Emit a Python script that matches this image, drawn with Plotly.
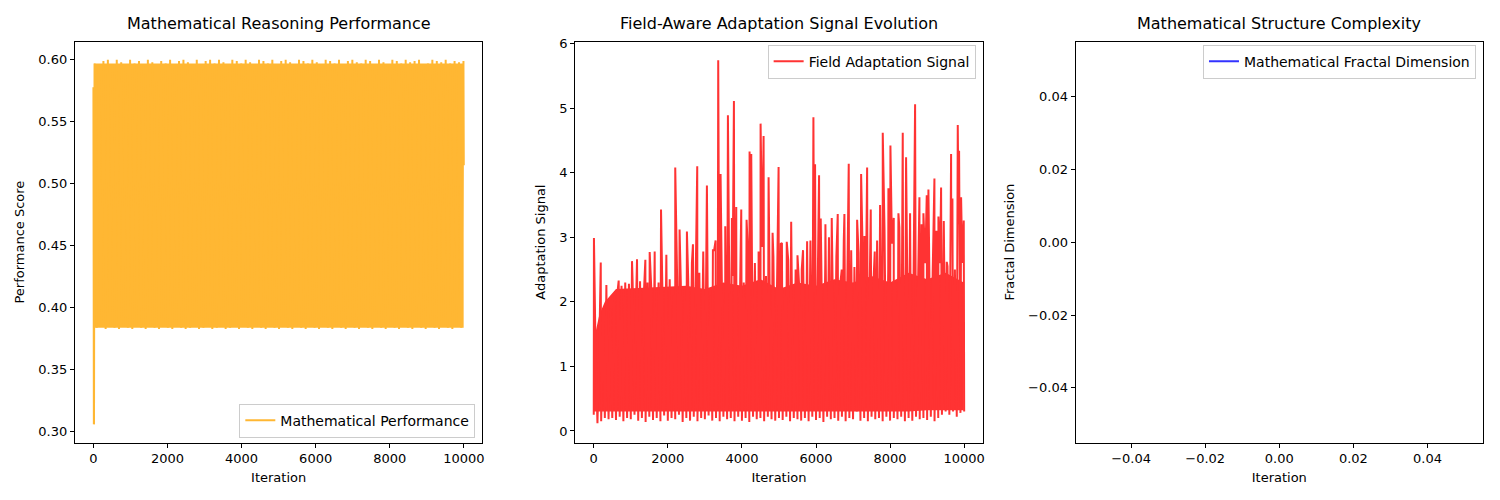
import plotly.graph_objects as go

# --- data ---
# Mathematical performance: start-up dip, then a dense oscillation between ~0.383 and ~0.60
perf_start_iter = [0, 4, 8, 12, 16]
perf_start_vals = [0.578, 0.395, 0.339, 0.306, 0.307]
perf_step = 60  # sampling of the dense band below, from iteration 30
perf_vals = [
    0.597, 0.384, 0.595, 0.386, 0.599, 0.383, 0.600, 0.385, 0.596, 0.384,
    0.600, 0.383, 0.598, 0.385, 0.594, 0.384, 0.600, 0.383, 0.597, 0.386,
    0.599, 0.384, 0.596, 0.383, 0.600, 0.385, 0.598, 0.384, 0.583, 0.383,
    0.599, 0.385, 0.597, 0.384, 0.600, 0.383, 0.595, 0.386, 0.599, 0.384,
    0.600, 0.383, 0.598, 0.384, 0.596, 0.385, 0.600, 0.383, 0.594, 0.384,
    0.599, 0.386, 0.600, 0.383, 0.597, 0.384, 0.600, 0.385, 0.598, 0.383,
    0.595, 0.384, 0.600, 0.386, 0.599, 0.383, 0.597, 0.385, 0.600, 0.384,
    0.598, 0.383, 0.596, 0.385, 0.600, 0.384, 0.599, 0.383, 0.597, 0.386,
    0.600, 0.384, 0.595, 0.383, 0.599, 0.385, 0.600, 0.384, 0.598, 0.383,
    0.596, 0.386, 0.600, 0.384, 0.599, 0.383, 0.597, 0.385, 0.600, 0.384,
    0.598, 0.383, 0.594, 0.385, 0.600, 0.384, 0.599, 0.383, 0.597, 0.386,
    0.600, 0.384, 0.596, 0.383, 0.599, 0.385, 0.600, 0.384, 0.598, 0.383,
    0.597, 0.386, 0.600, 0.384, 0.599, 0.383, 0.595, 0.385, 0.600, 0.384,
    0.598, 0.383, 0.596, 0.385, 0.600, 0.384, 0.599, 0.383, 0.597, 0.386,
    0.600, 0.384, 0.598, 0.383, 0.599, 0.385, 0.600, 0.384, 0.596, 0.383,
    0.597, 0.386, 0.600, 0.384, 0.599, 0.383, 0.598, 0.385, 0.600, 0.384,
    0.597, 0.383, 0.599, 0.385, 0.598, 0.384, 0.599,
]
perf_end_iter = [9999]
perf_end_vals = [0.515]
# solid body of the performance band (where the oscillation is too dense to separate)
perf_band_iter = [20, 1000, 2000, 3000, 4000, 5000, 6000, 7000, 8000, 9000, 9995]
perf_band_low = [0.384, 0.384, 0.384, 0.384, 0.384, 0.384, 0.384, 0.384, 0.384, 0.384, 0.384]
perf_band_high = [0.597, 0.597, 0.597, 0.597, 0.597, 0.597, 0.597, 0.597, 0.597, 0.597, 0.597]

# Field adaptation signal: dense oscillation (every 50 iterations) plus spikes
signal_step = 50
signal_base = [
    0.25, 1.20, 0.12, 1.30, 0.15, 1.50, 0.20, 1.70, 0.18, 1.90,
    0.20, 2.10, 0.17, 2.20, 0.22, 2.25, 0.15, 2.30, 0.20, 2.28,
    0.18, 2.30, 0.25, 2.20, 0.16, 2.32, 0.20, 2.10, 0.14, 2.30,
    0.22, 2.25, 0.17, 2.00, 0.20, 2.30, 0.15, 2.28, 0.24, 2.20,
    0.16, 2.35, 0.20, 2.10, 0.18, 2.40, 0.25, 2.30, 0.14, 2.20,
    0.20, 2.35, 0.16, 2.60, 0.22, 2.20, 0.15, 2.45, 0.20, 2.30,
    0.18, 2.60, 0.24, 2.10, 0.16, 2.80, 0.20, 2.30, 0.15, 2.70,
    0.22, 2.20, 0.18, 2.90, 0.20, 2.40, 0.15, 2.10, 0.22, 2.75,
    0.16, 2.30, 0.20, 2.95, 0.14, 2.20, 0.22, 2.60, 0.18, 2.10,
    0.20, 2.85, 0.15, 2.40, 0.22, 2.15, 0.18, 2.70, 0.16, 2.30,
    0.20, 2.90, 0.17, 2.20, 0.22, 2.65, 0.15, 2.10, 0.20, 2.50,
    0.18, 2.20, 0.16, 2.80, 0.20, 2.30, 0.15, 2.95, 0.22, 2.15,
    0.17, 2.75, 0.20, 2.30, 0.14, 2.60, 0.22, 3.00, 0.18, 2.20,
    0.20, 2.70, 0.16, 2.25, 0.22, 2.95, 0.15, 2.40, 0.20, 2.80,
    0.18, 2.20, 0.30, 2.75, 0.16, 3.05, 0.20, 2.35, 0.15, 2.85,
    0.22, 2.30, 0.18, 2.95, 0.20, 2.40, 0.15, 3.10, 0.22, 2.50,
    0.16, 2.90, 0.20, 2.30, 0.18, 3.15, 0.22, 2.55, 0.15, 2.95,
    0.20, 2.40, 0.16, 3.05, 0.22, 2.50, 0.18, 3.20, 0.20, 2.60,
    0.17, 3.00, 0.22, 2.45, 0.15, 3.10, 0.20, 2.60, 0.25, 3.25,
    0.30, 2.55, 0.25, 3.05, 0.30, 2.50, 0.22, 3.20, 0.28, 2.60,
    0.30,
]
spike_iter = [
    5, 189, 341, 673, 1033, 1168, 1393, 1510, 1645, 1816, 1960, 2200, 2317,
    2515, 2678, 2794, 2956, 3055, 3217, 3290, 3360, 3424, 3550, 3622, 3730,
    3784, 3847, 3982, 4126, 4207, 4252, 4450, 4504, 4585, 4720, 4828, 4990,
    5080, 5210, 5330, 5500, 5615, 5760, 5930, 5975, 6083, 6128, 6254, 6425,
    6587, 6695, 6767, 6884, 7037, 7110, 7218, 7307, 7380, 7478, 7586, 7730,
    7802, 7955, 8009, 8099, 8225, 8342, 8432, 8540, 8675, 8792, 8900, 8990,
    9035, 9197, 9305, 9377, 9530, 9647, 9683, 9827, 9863, 9917, 9989,
]
spike_vals = [
    2.99, 2.61, 2.26, 2.33, 2.63, 2.66, 2.65, 2.77, 2.78, 3.43, 2.73, 4.08, 3.12,
    3.09, 2.89, 4.10, 2.78, 3.80, 2.80, 2.95, 5.74, 3.98, 3.17, 4.89, 3.30,
    5.11, 3.47, 3.43, 3.27, 4.33, 4.29, 2.78, 4.76, 4.57, 3.93, 3.07, 4.09,
    2.91, 2.93, 3.24, 2.72, 2.50, 2.94, 4.86, 4.13, 3.96, 3.29, 3.20, 3.30,
    3.36, 2.50, 3.36, 4.14, 2.54, 3.27, 3.98, 3.02, 4.08, 3.43, 2.78, 3.50,
    4.62, 3.76, 4.42, 3.30, 3.37, 4.62, 4.24, 3.37, 5.06, 3.62, 3.37, 3.65,
    3.74, 3.91, 3.32, 3.77, 2.62, 4.29, 3.60, 4.74, 4.34, 3.62, 3.26,
]
# solid body of the signal band
signal_band_iter = [0, 150, 300, 600, 1500, 2500, 3000, 3500, 4000, 4500, 5000, 5500,
                    6000, 6500, 7000, 7500, 8000, 8500, 9000, 9500, 9990]
signal_band_low = [0.30, 0.30, 0.30, 0.30, 0.30, 0.30, 0.30, 0.30, 0.30, 0.30, 0.30, 0.30,
                   0.30, 0.30, 0.30, 0.30, 0.30, 0.30, 0.32, 0.32, 0.32]
signal_band_high = [1.40, 1.80, 2.00, 2.20, 2.22, 2.25, 2.20, 2.30, 2.25, 2.35, 2.20, 2.30,
                    2.25, 2.35, 2.30, 2.40, 2.30, 2.45, 2.35, 2.45, 2.30]

# Mathematical fractal dimension: no valid values recorded
fractal_iter = [0]
fractal_vals = [None]

# --- assemble series ---
perf_x = perf_start_iter + [30 + perf_step * i for i in range(len(perf_vals))] + perf_end_iter
perf_y = perf_start_vals + perf_vals + perf_end_vals

sig_pts = [(signal_step * i, v) for i, v in enumerate(signal_base)]
sig_pts += list(zip(spike_iter, spike_vals))
sig_pts.sort()
sig_x = [p[0] for p in sig_pts]
sig_y = [p[1] for p in sig_pts]

ORANGE = '#FFB733'   # orange at alpha 0.8 on white
RED = '#FF3333'
BLUE = '#3333FF'
FONT = "DejaVu Sans"

fig = go.Figure()

# band bodies (drawn first, hidden from legends)
fig.add_trace(go.Scatter(x=perf_band_iter, y=perf_band_low, mode='lines', line=dict(width=0),
                         showlegend=False, hoverinfo='skip', xaxis='x', yaxis='y'))
fig.add_trace(go.Scatter(x=perf_band_iter, y=perf_band_high, mode='lines', line=dict(width=0),
                         fill='tonexty', fillcolor=ORANGE, showlegend=False, hoverinfo='skip',
                         xaxis='x', yaxis='y'))
fig.add_trace(go.Scatter(x=signal_band_iter, y=signal_band_low, mode='lines', line=dict(width=0),
                         showlegend=False, hoverinfo='skip', xaxis='x2', yaxis='y2'))
fig.add_trace(go.Scatter(x=signal_band_iter, y=signal_band_high, mode='lines', line=dict(width=0),
                         fill='tonexty', fillcolor=RED, showlegend=False, hoverinfo='skip',
                         xaxis='x2', yaxis='y2'))

fig.add_trace(go.Scatter(
    x=perf_x, y=perf_y, mode='lines', name='Mathematical Performance',
    line=dict(color=ORANGE, width=2),
    xaxis='x', yaxis='y', legend='legend', showlegend=True
))
fig.add_trace(go.Scatter(
    x=sig_x, y=sig_y, mode='lines', name='Field Adaptation Signal',
    line=dict(color=RED, width=2),
    xaxis='x2', yaxis='y2', legend='legend2', showlegend=True
))
fig.add_trace(go.Scatter(
    x=fractal_iter, y=fractal_vals, mode='lines', name='Mathematical Fractal Dimension',
    line=dict(color=BLUE, width=2),
    xaxis='x3', yaxis='y3', legend='legend3', showlegend=True
))

ax = dict(showline=True, mirror=True, linecolor='black', linewidth=1,
          ticks='outside', ticklen=4, tickcolor='black', showgrid=False,
          zeroline=False, tickfont=dict(size=13, color='black'))
ydom = [0.116, 0.926]
doms = [[0.05, 0.322], [0.384, 0.656], [0.718, 0.99]]
leg = dict(bgcolor='rgba(255,255,255,0.8)', bordercolor='#cccccc', borderwidth=1,
           font=dict(size=14))

fig.update_layout(
    width=1500, height=500,
    margin=dict(l=0, r=0, t=0, b=0),
    paper_bgcolor='white', plot_bgcolor='white',
    font=dict(family=FONT, color='black'),
    showlegend=True,
    xaxis=dict(ax, domain=doms[0], range=[-500, 10500], dtick=2000, tickformat='d',
               title=dict(text='Iteration', font=dict(size=13), standoff=7)),
    yaxis=dict(ax, domain=ydom, range=[0.2913, 0.6147], dtick=0.05, tickformat='.2f',
               title=dict(text='Performance Score', font=dict(size=13), standoff=10)),
    xaxis2=dict(ax, domain=doms[1], range=[-500, 10500], dtick=2000, tickformat='d', anchor='y2',
                title=dict(text='Iteration', font=dict(size=13), standoff=7)),
    yaxis2=dict(ax, domain=ydom, range=[-0.18, 6.03], dtick=1, anchor='x2',
                title=dict(text='Adaptation Signal', font=dict(size=13), standoff=10)),
    xaxis3=dict(ax, domain=doms[2], range=[-0.055, 0.055], dtick=0.02, tick0=0,
                tickformat='.2f', anchor='y3',
                title=dict(text='Iteration', font=dict(size=13), standoff=7)),
    yaxis3=dict(ax, domain=ydom, range=[-0.055, 0.055], dtick=0.02, tick0=0,
                tickformat='.2f', anchor='x3',
                title=dict(text='Fractal Dimension', font=dict(size=13), standoff=10)),
    legend=dict(leg, x=0.3173, y=0.126, xanchor='right', yanchor='bottom'),
    legend2=dict(leg, x=0.6513, y=0.92, xanchor='right', yanchor='top'),
    legend3=dict(leg, x=0.9853, y=0.92, xanchor='right', yanchor='top'),
)

titles = ['Mathematical Reasoning Performance',
          'Field-Aware Adaptation Signal Evolution',
          'Mathematical Structure Complexity']
for t, d in zip(titles, doms):
    fig.add_annotation(text=t, x=(d[0] + d[1]) / 2, y=ydom[1], xref='paper', yref='paper',
                       xanchor='center', yanchor='bottom', yshift=7, showarrow=False,
                       font=dict(size=16, family=FONT, color='black'))

fig.write_html("out.html", config={'displayModeBar': False},
               post_script="document.body.style.margin='0';")
